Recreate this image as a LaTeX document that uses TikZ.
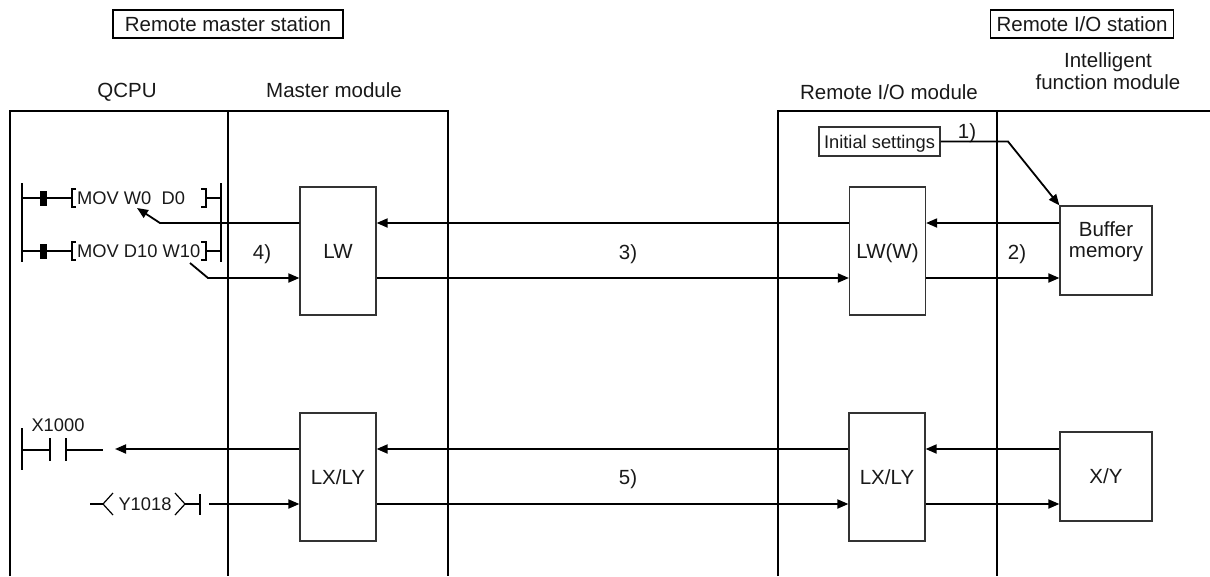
\documentclass[tikz,border=0pt]{standalone}
\usepackage{fontspec}
\setmainfont{Liberation Sans}
\usetikzlibrary{arrows.meta,calc}
\newcommand\bigtxt{\fontsize{20.5}{21.5}\selectfont}
\newcommand\smalltxt{\fontsize{18.3}{20}\selectfont}
\begin{document}
\begin{tikzpicture}[x=1pt,y=-1pt,
  frame/.style={line width=1.8pt,black},
  lbl/.style={font=\bigtxt,inner sep=0pt,text height=14.7pt,text depth=0pt,align=center,text=black!90},
  slbl/.style={font=\smalltxt,inner sep=0pt,text height=13.1pt,text depth=0pt,text=black!90},
  blk/.style={lbl,draw=black!80,line width=1.2pt,fill=white,minimum width=76pt,minimum height=128pt},
  sq/.style={lbl,draw=black!80,line width=1.2pt,fill=white,minimum width=92pt,minimum height=89pt},
  hdr/.style={lbl,draw=black,line width=1.2pt,minimum height=28pt,inner xsep=6pt},
  arr/.style={line width=1.8pt,-{Triangle[length=11pt,width=9pt]}},
  ln/.style={line width=1.8pt},
  rung/.style={line width=1.8pt},
]
\useasboundingbox (0,0) rectangle (1210,576);

% headers
\node[hdr,minimum width=230pt] (rms) at (228,24) {Remote master station};
\node[hdr] (rios) at (1082,24) {Remote I/O station};
\node[lbl] (qcpu) at (127,90) {QCPU};
\node[lbl] (mm) at (334,90) {Master module};
\node[lbl] (riom) at (889,92) {Remote I/O module};
\node[lbl] (ifm) at (1108,82) {Intelligent\\function module};

% frames
\draw[frame] (10,576) -- (10,111) -- (448,111) -- (448,576);
\draw[frame] (228,111) -- (228,576);
\draw[frame] (778,576) -- (778,111) -- (1210,111);
\draw[frame] (997,111) -- (997,576);

% coordinates of signal levels
\coordinate (yA) at (0,223);
\coordinate (yB) at (0,278);
\coordinate (yC) at (0,449);
\coordinate (yD) at (0,504);

% blocks
\node[blk] (lw) at (338,251) {LW};
\node[blk] (lww) at (887.5,251) {LW(W)};
\node[sq] (buf) at (1106,250.5) {Buffer\\memory};
\node[blk] (lxm) at (338,477) {LX/LY};
\node[blk] (lxr) at (887,477) {LX/LY};
\node[sq] (xy) at (1106,476.5) {X/Y};
\node[slbl,draw=black!80,line width=1.2pt,fill=white,minimum width=121pt,minimum height=29pt,inner xsep=3pt] (init) at (879.5,141.5) {Initial settings};

% labels
\node[lbl] (l1) at (967,131) {1)};
\node[lbl] (l2) at (1017,252) {2)};
\node[lbl] (l3) at (628,252) {3)};
\node[lbl] (l4) at (262,252) {4)};
\node[lbl] (l5) at (628,477) {5)};

% ladder, upper part
\draw[rung] (22,183) -- (22,262);
\draw[rung] (221,183) -- (221,262);
\foreach \yy in {198,251}{
  \draw[rung] (22,\yy) -- (40,\yy);
  \fill (40,\yy-7.5) rectangle (47,\yy+7.5);
  \draw[rung] (47,\yy) -- (72,\yy);
  \draw[line width=1.2pt] (76,\yy-9) -- (72,\yy-9) -- (72,\yy+9) -- (76,\yy+9);
  \draw[line width=1.2pt] (201,\yy-9) -- (206,\yy-9) -- (206,\yy+9) -- (201,\yy+9);
  \draw[rung] (206,\yy) -- (221,\yy);
}
\node[slbl,anchor=west] (mov1) at (77,198) {MOV W0\ \ D0};
\node[slbl,anchor=west] (mov2) at (77,251) {MOV D10 W10};
\coordinate (w0tip) at (137,208);
\coordinate (w0bend) at (160,223);
\coordinate (w10s) at (190,263);
\coordinate (w10bend) at (208,278);

% ladder, lower part
\draw[rung] (22,428) -- (22,470);
\draw[rung] (22,450) -- (50,450);
\draw[rung] (50,438) -- (50,461);
\draw[rung] (66,438) -- (66,461);
\draw[rung] (66,450) -- (103,450);
\node[slbl] (x1000) at (58,425) {X1000};
\coordinate (xtip) at (115,449);

\draw[rung] (90,504) -- (103,504);
\draw[line width=1.2pt] (113,493) -- (103,504) -- (113,515);
\node[slbl] (y1018) at (145,504) {Y1018};
\draw[line width=1.2pt] (175,493) -- (185,504) -- (175,515);
\draw[rung] (185,504) -- (200,504);
\draw[rung] (200,494) -- (200,515);
\coordinate (ystart) at (209,504);

% connectors
\draw[arr] (init.east) -- (1008,141.5) -- (buf.north west);
\draw[arr] (buf.west |- yA) -- (lww.east |- yA);
\draw[arr] (lww.west |- yA) -- (lw.east |- yA);
\draw[arr] (lw.west |- yA) -- (w0bend) -- (w0tip);
\draw[arr] (w10s) -- (w10bend) -- (lw.west |- yB);
\draw[arr] (lw.east |- yB) -- (lww.west |- yB);
\draw[arr] (lww.east |- yB) -- (buf.west |- yB);

\draw[arr] (xy.west |- yC) -- (lxr.east |- yC);
\draw[arr] (lxr.west |- yC) -- (lxm.east |- yC);
\draw[arr] (lxm.west |- yC) -- (xtip);
\draw[arr] (ystart) -- (lxm.west |- yD);
\draw[arr] (lxm.east |- yD) -- (lxr.west |- yD);
\draw[arr] (lxr.east |- yD) -- (xy.west |- yD);
\end{tikzpicture}
\end{document}
